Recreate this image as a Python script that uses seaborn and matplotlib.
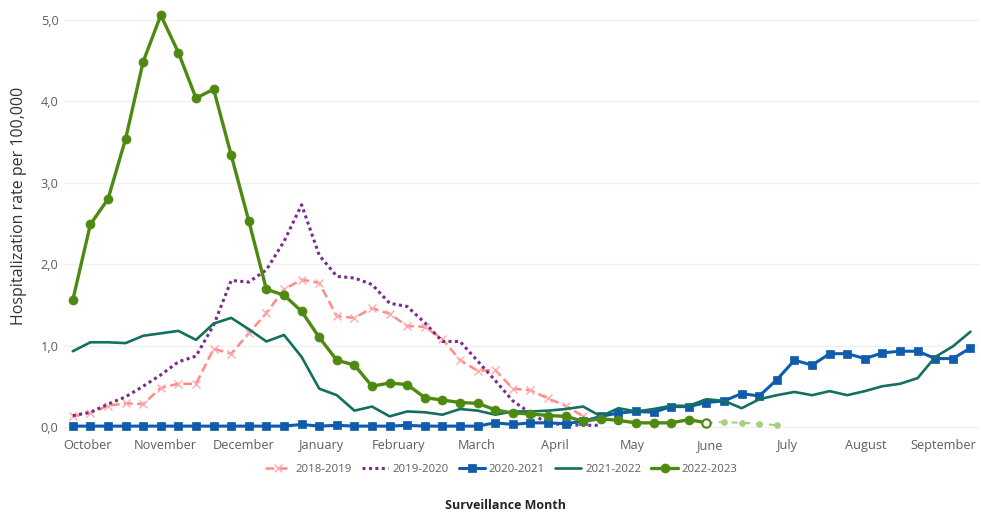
import matplotlib
matplotlib.use("Agg")
import matplotlib.pyplot as plt
import numpy as np
import seaborn as sns


# Weekly hospitalization rates per 100,000 (week 0 = start of October)
rate_2018_2019 = [0.13, 0.17, 0.26, 0.29, 0.28, 0.48, 0.53, 0.53, 0.96, 0.90,
                  1.15, 1.40, 1.69, 1.81, 1.77, 1.36, 1.34, 1.46, 1.39, 1.24,
                  1.23, 1.08, 0.82, 0.69, 0.70, 0.47, 0.45, 0.35, 0.26, 0.13]
rate_2019_2020 = [0.14, 0.18, 0.28, 0.37, 0.50, 0.64, 0.80, 0.87, 1.25, 1.80,
                  1.78, 1.93, 2.28, 2.73, 2.11, 1.85, 1.83, 1.75, 1.52, 1.48,
                  1.28, 1.05, 1.05, 0.81, 0.57, 0.32, 0.17, 0.04, 0.03, 0.02,
                  0.02]
rate_2020_2021 = [0.01, 0.01, 0.01, 0.01, 0.01, 0.01, 0.01, 0.01, 0.01, 0.01,
                  0.01, 0.01, 0.01, 0.03, 0.01, 0.02, 0.01, 0.01, 0.01, 0.02,
                  0.01, 0.01, 0.01, 0.01, 0.05, 0.03, 0.05, 0.05, 0.04, 0.07,
                  0.13, 0.17, 0.19, 0.18, 0.25, 0.25, 0.30, 0.32, 0.41, 0.38,
                  0.58, 0.82, 0.76, 0.90, 0.90, 0.84, 0.91, 0.93, 0.93, 0.84,
                  0.84, 0.97]
rate_2021_2022 = [0.93, 1.04, 1.04, 1.03, 1.12, 1.15, 1.18, 1.07, 1.27, 1.34,
                  1.20, 1.05, 1.13, 0.86, 0.47, 0.39, 0.20, 0.25, 0.13, 0.19,
                  0.18, 0.15, 0.22, 0.20, 0.15, 0.19, 0.19, 0.20, 0.22, 0.25,
                  0.13, 0.23, 0.19, 0.22, 0.26, 0.26, 0.34, 0.32, 0.23, 0.34,
                  0.39, 0.43, 0.39, 0.44, 0.39, 0.44, 0.50, 0.53, 0.60, 0.86,
                  0.99, 1.17]
rate_2022_2023 = [1.56, 2.49, 2.80, 3.54, 4.49, 5.06, 4.60, 4.04, 4.15, 3.34,
                  2.53, 1.69, 1.62, 1.42, 1.10, 0.82, 0.76, 0.50, 0.54, 0.52,
                  0.36, 0.33, 0.30, 0.29, 0.21, 0.17, 0.16, 0.14, 0.13, 0.07,
                  0.10, 0.08, 0.05, 0.05, 0.05, 0.09, 0.05]
# preliminary weeks, starting from the last confirmed week
rate_2022_2023_prelim = [0.05, 0.06, 0.05, 0.04, 0.02]

months = ["October", "November", "December", "January", "February", "March",
          "April", "May", "June", "July", "August", "September"]

font_color = "#605e5c"


def main():
    sns.set_theme(style="white")
    plt.rcParams["font.family"] = ["Open Sans", "DejaVu Sans"]

    fig = plt.figure(figsize=(9.81, 5.14), dpi=100)
    ax = fig.add_axes([64 / 981, 0.1615, 0.933, 0.8185])

    w = np.arange(52)

    sns.lineplot(x=w[:len(rate_2018_2019)], y=rate_2018_2019, ax=ax, color="#ff8a8a",
                 linestyle=(0, (3.5, 1.8)), linewidth=1.8, marker="x", markersize=5.5,
                 markeredgecolor="#ffaaaa", markeredgewidth=1.0, label="2018-2019")
    sns.lineplot(x=w[:len(rate_2019_2020)], y=rate_2019_2020, ax=ax, color="#7a2c8c",
                 linestyle=(0, (1, 1.1)), linewidth=2.2, label="2019-2020")
    sns.lineplot(x=w[:len(rate_2020_2021)], y=rate_2020_2021, ax=ax, color="#0f5cad",
                 linewidth=2.2, marker="s", markersize=5.5, markeredgecolor="#0f5cad",
                 markeredgewidth=0.5, label="2020-2021")
    sns.lineplot(x=w[:len(rate_2021_2022)], y=rate_2021_2022, ax=ax, color="#13705e",
                 linewidth=1.9, label="2021-2022")
    n = len(rate_2022_2023)
    sns.lineplot(x=w[n - 1:n - 1 + len(rate_2022_2023_prelim)], y=rate_2022_2023_prelim, ax=ax,
                 color="#a6cf80", linestyle=(0, (3, 3)), linewidth=1.5, marker="o",
                 markersize=4, markeredgecolor="#a6cf80")
    sns.lineplot(x=w[:n], y=rate_2022_2023, ax=ax, color="#4e8a12", linewidth=2.4,
                 marker="o", markersize=6.5, markeredgecolor="#4e8a12",
                 markeredgewidth=0.5, label="2022-2023")
    ax.plot(w[n - 1], rate_2022_2023[-1], marker="o", markersize=6, color="#4e8a12",
            markerfacecolor="white", markeredgewidth=1.5, zorder=5)

    handles, labels = ax.get_legend_handles_labels()
    if ax.get_legend() is not None:
        ax.get_legend().remove()

    ax.set_xlim(-0.5, 51.5)
    ax.set_ylim(-0.05, 5.12)
    ax.set_yticks([0, 1, 2, 3, 4, 5])
    ax.set_yticklabels(["0,0", "1,0", "2,0", "3,0", "4,0", "5,0"])
    ax.set_xticks(0.85 + 4.42 * np.arange(len(months)))
    ax.set_xticklabels(months)
    ax.tick_params(axis="both", length=0, labelsize=9.2, labelcolor=font_color)
    ax.tick_params(axis="x", pad=6)
    ax.tick_params(axis="y", pad=4)
    ax.grid(axis="y", color="#f0f0f0", linewidth=1)
    ax.set_axisbelow(True)
    for s in ax.spines.values():
        s.set_visible(False)

    ax.set_xlabel("")
    ax.set_ylabel("Hospitalization rate per 100,000", fontsize=11.5, color="#333333")
    ax.yaxis.set_label_coords(-0.040, 0.535)

    fig.legend(handles, labels, loc="center", bbox_to_anchor=(0.511, 0.086), ncol=5,
               frameon=False, fontsize=8.2, handlelength=2.3, handletextpad=0.35,
               columnspacing=0.9, labelcolor=font_color)
    fig.text(0.515, 0.017, "Surveillance Month", ha="center", va="center",
             fontsize=9, fontweight="bold", color="#252423")

    fig.savefig("out.png", dpi=100)


if __name__ == "__main__":
    main()
